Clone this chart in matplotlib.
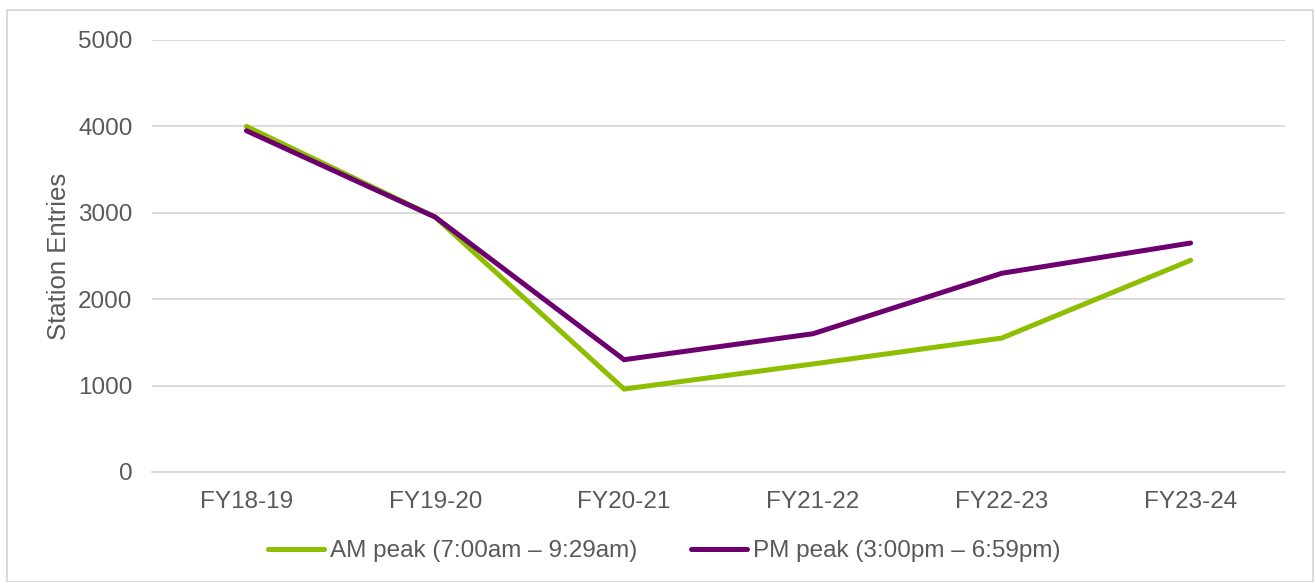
import matplotlib
matplotlib.use("Agg")
import matplotlib.pyplot as plt
from matplotlib.patches import Rectangle

years = ["FY18-19", "FY19-20", "FY20-21", "FY21-22", "FY22-23", "FY23-24"]
am_peak = [4000, 2950, 960, 1250, 1550, 2450]
pm_peak = [3950, 2950, 1300, 1600, 2300, 2650]
am_label = "AM peak (7:00am \u2013 9:29am)"
pm_label = "PM peak (3:00pm \u2013 6:59pm)"

GREEN = "#8DBE00"
PURPLE = "#6C006F"
TEXT = "#595959"
GRID = "#D9D9D9"

plt.rcParams["font.family"] = ["Liberation Sans", "DejaVu Sans"]

fig = plt.figure(figsize=(13.15, 5.82), dpi=100)
ax = fig.add_axes([152 / 1315, 1 - 472 / 582, (1285 - 152) / 1315, (472 - 40) / 582])

x = list(range(len(years)))
ax.plot(x, am_peak, color=GREEN, lw=3.6, solid_capstyle="round", solid_joinstyle="miter", label=am_label, zorder=3)
ax.plot(x, pm_peak, color=PURPLE, lw=3.6, solid_capstyle="round", solid_joinstyle="miter", label=pm_label, zorder=4)

ax.set_xlim(-0.5, len(years) - 0.5)
ax.set_ylim(0, 5000)
ax.set_yticks(range(0, 5001, 1000))
ax.set_xticks(x)
ax.set_xticklabels(years)
ax.yaxis.grid(True, color=GRID, lw=1.3)
ax.set_axisbelow(True)
for s in ["top", "right", "left"]:
    ax.spines[s].set_visible(False)
ax.spines["bottom"].set_color(GRID)
ax.spines["bottom"].set_linewidth(1.3)
ax.tick_params(axis="both", length=0, labelsize=17.5, colors=TEXT)
ax.tick_params(axis="y", pad=14)
ax.tick_params(axis="x", pad=14)
ax.set_ylabel("Station Entries", fontsize=18.5, color=TEXT)
ax.yaxis.set_label_coords(-81 / 1133, 0.5)

leg = fig.legend(loc="center", bbox_to_anchor=(664 / 1315, 1 - 551 / 582), ncol=2, frameon=False,
                 fontsize=17.5, handlelength=2.3, columnspacing=2.2, handletextpad=0.25)
for t in leg.get_texts():
    t.set_color(TEXT)

fig.patches.append(Rectangle((7 / 1315, 0), (1313 - 7) / 1315, 1 - 10 / 582,
                             transform=fig.transFigure, fill=False, edgecolor=GRID, lw=1.3))

fig.savefig("out.png", dpi=100)
